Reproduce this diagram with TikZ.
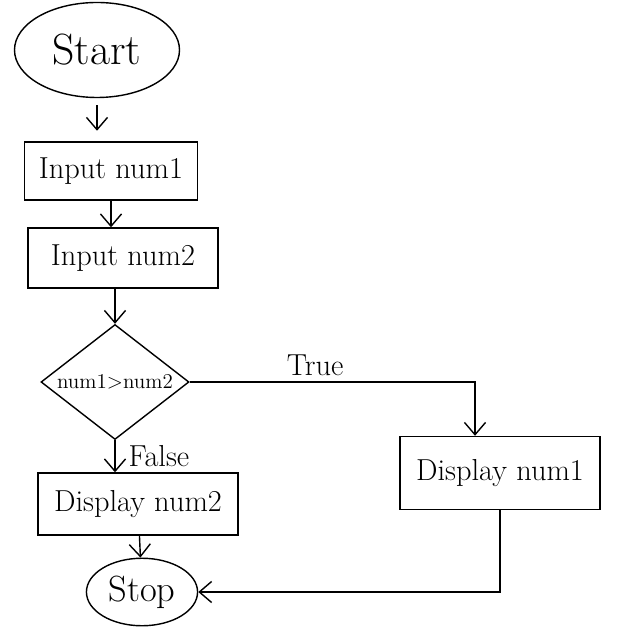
\documentclass[tikz,border=0pt]{standalone}
\usepackage{tikz}
\usetikzlibrary{shapes.geometric,arrows.meta}

\begin{document}
\begin{tikzpicture}[>={Straight Barb[length=7pt,width=12pt]}]
            \useasboundingbox (0,0) rectangle (12.8,-12.8);

            % Draw nodes
            \node[ellipse,draw,thick,minimum width=3.3cm,minimum height=1.9cm,font=\Huge] (start) at (1.94,-1.0) {Start};
            \node[rectangle,draw,thick,minimum width=3.46cm,minimum height=1.16cm,font=\LARGE] (in1) at (2.22,-3.42) {Input num1};
            \node[rectangle,draw,thick,minimum width=3.8cm,minimum height=1.2cm,font=\LARGE] (in2) at (2.46,-5.16) {Input num2};
            \node[diamond,draw,thick,minimum width=2.96cm,minimum height=2.3cm,inner sep=0pt] (cmp) at (2.3,-7.64) {};
            \node[font=\large] (cmptext) at (cmp) {num1$>$num2};
            \node[rectangle,draw,thick,minimum width=4.0cm,minimum height=1.46cm,font=\LARGE] (disp1) at (10.0,-9.46) {Display num1};
            \node[rectangle,draw,thick,minimum width=4.0cm,minimum height=1.24cm,font=\LARGE] (disp2) at (2.76,-10.08) {Display num2};
            \node[ellipse,draw,thick,minimum width=2.1cm,minimum height=1.35cm,font=\huge] (stop) at (2.84,-11.84) {Stop};

            % Connect nodes with arrows
            \draw[->, thick, shorten <=4pt, shorten >=6pt] (start.south) -- (start.south |- in1.north);
            \draw[->, thick] (in1.south) -- (in1.south |- in2.north);
            \draw[->, thick] (cmp.north |- in2.south) -- (cmp.north);
            \draw[->, thick] (cmp.east) -| ([xshift=-0.5cm]disp1.north) node[pos=0.22, above, font=\LARGE] {True};
            \draw[->, thick] (cmp.south) -- (cmp.south |- disp2.north) node[midway, right, xshift=4pt, font=\LARGE] {False};
            \draw[->, thick] (disp2) -- (stop);
            \draw[->, thick] (disp1.south) |- (stop.east);
          \end{tikzpicture}
\end{document}
